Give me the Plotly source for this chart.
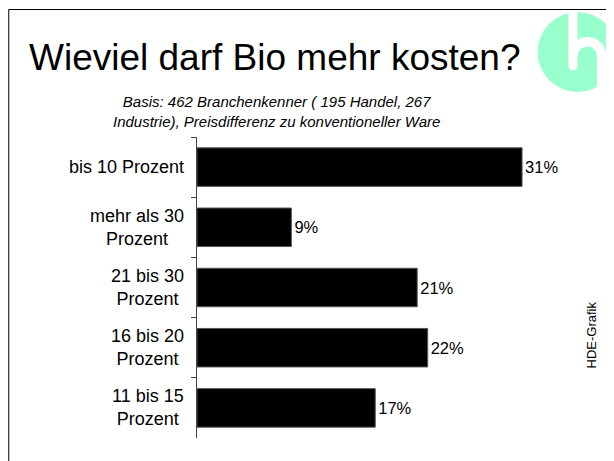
import numpy as np
import plotly.graph_objects as go

categories = ["bis 10 Prozent", "mehr als 30<br>Prozent", "21 bis 30<br>Prozent",
              "16 bis 20<br>Prozent", "11 bis 15<br>Prozent"]
values = [31, 9, 21, 22, 17]
value_labels = ["31%", "9%", "21%", "22%", "17%"]
title_text = "Wieviel darf Bio mehr kosten?"
subtitle_text = "Basis: 462 Branchenkenner ( 195 Handel, 267<br>Industrie), Preisdifferenz zu konventioneller Ware"
source_text = "HDE-Grafik"

# page has an 8px body margin; figure coordinates = page coordinates - OFF
OFF = 8
W_FIG, H_FIG = 614 - OFF, 461 - OFF
L, T, R_EDGE, B = 197 - OFF, 137 - OFF, 564.5 - OFF, 438 - OFF
PW, PH = R_EDGE - L, B - T


def px(x):
    """page x pixel -> paper"""
    return (x - OFF - L) / PW


def py(y):
    """page y pixel -> paper"""
    return (B - (y - OFF)) / PH


FONT = "Liberation Sans, Arial, sans-serif"

fig = go.Figure(go.Bar(
    x=values, y=categories, orientation="h",
    marker=dict(color="#000000", line=dict(color="#555555", width=1)),
    width=0.64,
    text=value_labels, textposition="outside",
    textfont=dict(family=FONT, size=16.5, color="#000000"),
    cliponaxis=False, hoverinfo="skip",
))

annotations = []
for c in categories:
    annotations.append(dict(
        x=0, xref="paper", y=c, yref="y", text=c, showarrow=False,
        xanchor="right", yanchor="middle", align="center", xshift=-11,
        font=dict(family=FONT, size=18, color="#000000"),
    ))
annotations.append(dict(
    x=px(27), y=py(57), xref="paper", yref="paper", text=title_text, showarrow=False,
    xanchor="left", yanchor="middle", font=dict(family=FONT, size=37, color="#000000"),
))
annotations.append(dict(
    x=px(277), y=py(111), xref="paper", yref="paper", text="<i>" + subtitle_text + "</i>",
    showarrow=False, xanchor="center", yanchor="middle", align="center",
    font=dict(family=FONT, size=15, color="#000000"),
))
annotations.append(dict(
    x=px(592), y=py(335), xref="paper", yref="paper", text=source_text, showarrow=False,
    textangle=-90, xanchor="center", yanchor="middle",
    font=dict(family=FONT, size=13, color="#000000"),
))

# logo geometry (page pixel coords)
cx, cy, rr = 578, 52, 40


def path_from(points):
    return "M " + " L ".join(f"{px(x):.5f},{py(y):.5f}" for x, y in points) + " Z"


# vertical stroke with rounded bottom
bar_pts = [(569, 11), (578, 11), (578, 66)]
for a in np.linspace(0, np.pi, 20):
    bar_pts.append((573.5 + 4.5 * np.cos(a), 66 + 4.5 * np.sin(a)))
bar_pts.append((569, 11))

# arch
acx, acy, r_out, r_in = 588, 56, 19, 9.5
arch_pts = []
for a in np.linspace(np.pi, 0, 40):
    arch_pts.append((acx + r_out * np.cos(a), acy - r_out * np.sin(a)))
arch_pts += [(acx + r_out, 100), (acx + r_in, 100)]
for a in np.linspace(0, np.pi, 40):
    arch_pts.append((acx + r_in * np.cos(a), acy - r_in * np.sin(a)))

shapes = [
    dict(type="rect", xref="paper", yref="paper", x0=px(8.5), y0=py(9.5), x1=px(640), y1=py(480),
         line=dict(color="#000000", width=1), fillcolor="rgba(0,0,0,0)", layer="below"),
    dict(type="circle", xref="paper", yref="paper", x0=px(cx - rr), x1=px(cx + rr),
         y0=py(cy + rr), y1=py(cy - rr), fillcolor="#99FFCC", line=dict(width=0)),
    dict(type="path", xref="paper", yref="paper", path=path_from(arch_pts),
         fillcolor="#FFFFFF", line=dict(width=0)),
    dict(type="path", xref="paper", yref="paper", path=path_from(bar_pts),
         fillcolor="#FFFFFF", line=dict(width=0)),
]

fig.update_layout(
    width=W_FIG, height=H_FIG,
    margin=dict(l=L, r=W_FIG - R_EDGE, t=T, b=H_FIG - B, pad=0),
    paper_bgcolor="#FFFFFF", plot_bgcolor="#FFFFFF",
    showlegend=False,
    xaxis=dict(range=[0, 35], visible=False, fixedrange=True),
    yaxis=dict(categoryorder="array", categoryarray=categories, autorange="reversed",
               showticklabels=False, showline=True, linecolor="#444444", linewidth=1,
               ticks="outside", ticklen=5, tickcolor="#444444", tickson="boundaries",
               showgrid=False, zeroline=False, fixedrange=True),
    annotations=annotations,
    shapes=shapes,
    bargap=0.36,
)

fig.write_html("out.html")
